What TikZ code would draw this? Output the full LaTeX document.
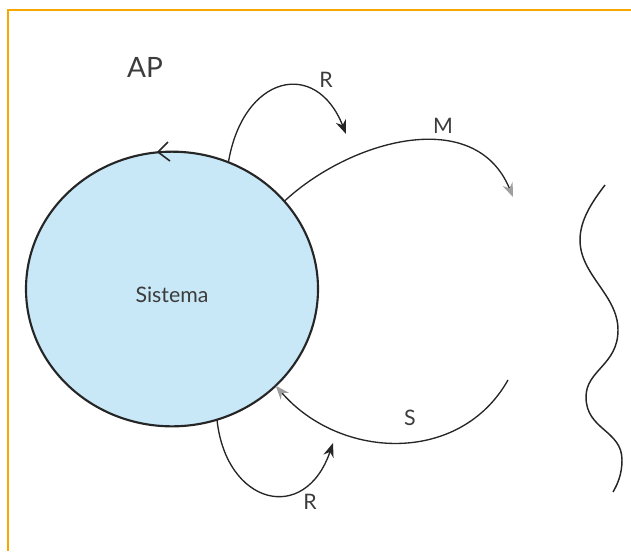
\documentclass[tikz,border=0pt]{standalone}
\definecolor{FrameOrange}{RGB}{247,168,0}
\definecolor{SystemBlue}{RGB}{200,232,248}
\definecolor{TextGray}{RGB}{60,60,60}
\usepackage{fontspec}
\setmainfont{Lato}
\usepackage{tikz}
\usetikzlibrary{arrows.meta, shapes.geometric}

\begin{document}
\begin{tikzpicture}[x=0.75pt, y=-0.75pt,
    flow/.style={line width=1pt, black!85},
    darktip/.style={flow, -{Stealth[length=10.5pt, width=8pt]}},
    graytip/.style={flow, -{Stealth[length=10.5pt, width=8pt, color=gray!75]}},
    label/.style={text=TextGray, font=\fontsize{16}{18}\selectfont, inner sep=0pt}]
          \useasboundingbox (0,0) rectangle (631,551);
          \draw[FrameOrange, line width=1pt] (8,551) |- (631,10);
          % the system
          \node[ellipse, draw=black!85, line width=1.6pt, fill=SystemBlue, outer sep=0pt,
                minimum width=219pt, minimum height=206pt, label, text=TextGray] (sis) at (172,289) {\raisebox{-10pt}[0pt][0pt]{Sistema}};
          \draw[line width=1.2pt, black!85] (168,142) -- (158,152) -- (170,161);
          \node[text=TextGray, font=\fontsize{21}{24}\selectfont, inner sep=0pt] (ap) at (145,67) {AP};
          % loose ends of the arrows
          \coordinate (rtop) at (346,134);
          \coordinate (mend) at (513,197);
          \coordinate (sbeg) at (508,380);
          \coordinate (rbot) at (333,443);
          \draw[darktip] (sis.66) .. controls (243,75) and (316,58) .. (rtop);
          \draw[graytip] (sis.38) .. controls (350,140) and (475,105) .. (mend);
          \draw[graytip] (sbeg) .. controls (460,465) and (340,460) .. (sis.-43);
          \draw[darktip] (sis.-71) .. controls (226,505) and (305,525) .. (rbot);
          \node[label] (lr1) at (326,80) {R};
          \node[label] (lm) at (443,126) {M};
          \node[label] (ls) at (410,418) {S};
          \node[label] (lr2) at (310,502) {R};
          % boundary
          \draw[line width=1.1pt, black!85] (605,185) .. controls (592,202) and (580,220) .. (580,240)
              .. controls (580,275) and (618,295) .. (618,330)
              .. controls (618,365) and (586,370) .. (586,397)
              .. controls (586,430) and (622,430) .. (622,460)
              .. controls (622,475) and (617,485) .. (613,492);
        \end{tikzpicture}
\end{document}
